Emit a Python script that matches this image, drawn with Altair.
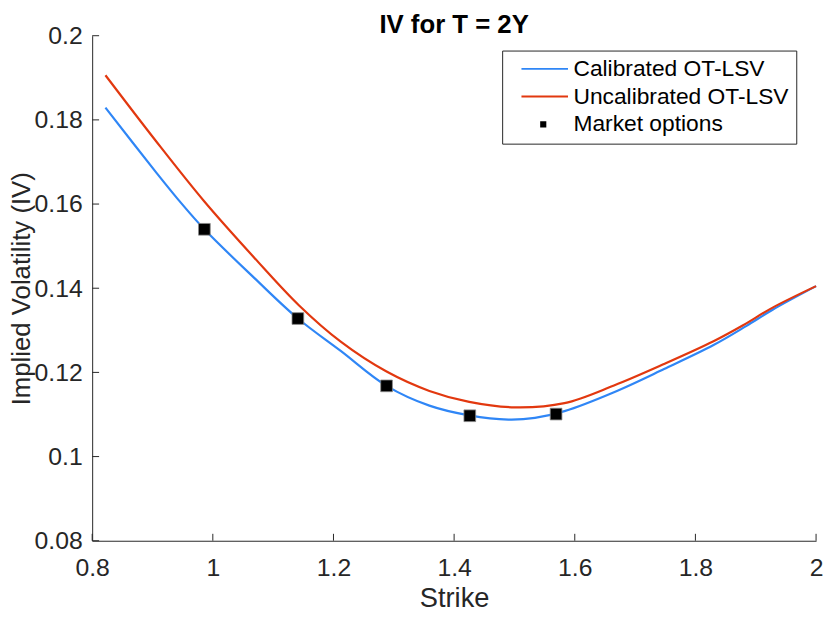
import altair as alt
import pandas as pd

# ---- data ----
series_names = ["Calibrated OT-LSV", "Uncalibrated OT-LSV", "Market options"]

cal_strike = [0.822, 0.905, 0.943, 0.986, 1.069, 1.141, 1.212, 1.288, 1.359, 1.425,
              1.490, 1.534, 1.583, 1.665, 1.748, 1.830, 1.884, 1.928, 2.000]
cal_iv = [0.1829, 0.1677, 0.1610, 0.1540, 0.1424, 0.1328, 0.1251, 0.1168, 0.1121, 0.1098,
          0.1088, 0.1092, 0.1108, 0.1153, 0.1208, 0.1265, 0.1310, 0.1349, 0.1405]

unc_strike = [0.822, 0.905, 0.986, 1.069, 1.143, 1.212, 1.288, 1.359, 1.425, 1.501,
              1.583, 1.665, 1.748, 1.830, 1.879, 1.928, 2.000]
unc_iv = [0.1906, 0.1751, 0.1606, 0.1472, 0.1359, 0.1273, 0.1202, 0.1156, 0.1130, 0.1117,
          0.1127, 0.1169, 0.1220, 0.1274, 0.1312, 0.1354, 0.1405]

mkt_strike = [0.986, 1.141, 1.288, 1.426, 1.569]
mkt_iv = [0.1540, 0.1328, 0.1168, 0.1097, 0.1101]

x_ticks = [0.8, 1.0, 1.2, 1.4, 1.6, 1.8, 2.0]
y_ticks = [0.08, 0.10, 0.12, 0.14, 0.16, 0.18, 0.20]

# ---- tables ----
curves = pd.concat([
    pd.DataFrame({"strike": cal_strike, "iv": cal_iv, "series": series_names[0]}),
    pd.DataFrame({"strike": unc_strike, "iv": unc_iv, "series": series_names[1]}),
])
market = pd.DataFrame({"strike": mkt_strike, "iv": mkt_iv, "series": series_names[2]})
xt = pd.DataFrame({"strike": x_ticks})
yt = pd.DataFrame({"iv": y_ticks})

BLUE = "#2f86f6"
RED = "#e2380f"
AX = "#262626"
FONT = "Liberation Sans"
W, H = 731, 510

xscale = alt.Scale(domain=[0.8, 2.0], nice=False, zero=False)
yscale = alt.Scale(domain=[0.08, 0.2], nice=False, zero=False)
XT = "Strike"
YT = "Implied Volatility (IV)"

legend = alt.Legend(
    title=None,
    orient="none",
    legendX=414,
    legendY=15,
    fillColor="white",
    strokeColor=AX,
    padding=7,
    symbolSize=400,
    symbolStrokeWidth=2,
    symbolType=alt.ExprRef(
        "datum.value === 'Market options' ? 'M2.09,-0.21H2.51V0.21H2.09Z' : 'M0.1,0H4.8'"),
    symbolFillColor=alt.ExprRef(
        "datum.value === 'Market options' ? 'black' : 'transparent'"),
    labelFontSize=23,
    labelFont=FONT,
    labelColor="black",
    labelOffset=42,
    rowPadding=4,
    labelLimit=400,
)

lines = alt.Chart(curves).mark_line(strokeWidth=2.2, interpolate="catmull-rom").encode(
    x=alt.X("strike:Q", scale=xscale, title=XT,
            axis=alt.Axis(values=x_ticks, format="~g", labelFlush=False)),
    y=alt.Y("iv:Q", scale=yscale, title=YT,
            axis=alt.Axis(values=y_ticks, format="~g", labelFlush=False)),
    color=alt.Color("series:N",
                    scale=alt.Scale(domain=series_names, range=[BLUE, RED, "black"]),
                    legend=legend),
)

points = alt.Chart(market).mark_point(
    shape="square", filled=True, size=140, color="black",
    stroke="#8a8a8a", strokeWidth=0.8, opacity=1,
).encode(
    x=alt.X("strike:Q", scale=xscale, title=XT),
    y=alt.Y("iv:Q", scale=yscale, title=YT),
)

xticks_layer = alt.Chart(xt).mark_rule(color=AX, strokeWidth=1).encode(
    x=alt.X("strike:Q", scale=xscale, title=XT),
    y=alt.value(H),
    y2=alt.value(H - 7),
)
yticks_layer = alt.Chart(yt).mark_rule(color=AX, strokeWidth=1).encode(
    y=alt.Y("iv:Q", scale=yscale, title=YT),
    x=alt.value(0),
    x2=alt.value(7),
)

chart = alt.layer(lines, points, xticks_layer, yticks_layer).properties(
    width=W,
    height=H,
    title=alt.Title("IV for T = 2Y", fontSize=26, fontWeight="bold", font=FONT,
                    color="black", offset=-14.5, anchor="middle", frame="group"),
    autosize=alt.AutoSizeParams(type="none"),
    padding={"left": 85, "top": 25, "right": 7, "bottom": 72},
).configure_view(
    stroke=None
).configure_axis(
    grid=False,
    ticks=False,
    domainColor=AX,
    domainWidth=1,
    labelColor=AX,
    titleColor=AX,
    labelFont=FONT,
    titleFont=FONT,
    labelFontSize=25,
    titleFontSize=27.5,
    titleFontWeight="normal",
).configure_axisX(
    labelPadding=15,
    titlePadding=4,
).configure_axisY(
    labelPadding=10,
    titlePadding=0,
    titleFontSize=26,
)

chart.save("out.html", embed_options={"renderer": "svg", "actions": False})
